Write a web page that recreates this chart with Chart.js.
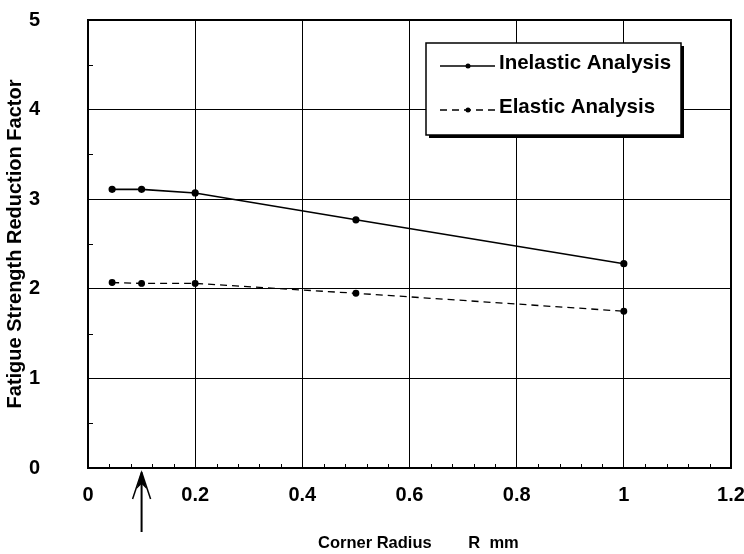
<!DOCTYPE html>
<html>
<head>
<meta charset="utf-8">
<script src="https://cdn.jsdelivr.net/npm/chart.js@4/dist/chart.umd.min.js"></script>
<style>
  html, body { margin: 0; padding: 0; background: #fff; }
  #wrap { width: 744px; height: 554px; position: relative; }
</style>
</head>
<body>
<div id="wrap"><canvas id="c" width="744" height="554"></canvas></div>
<script>
const radiusMM = [0.045, 0.1, 0.2, 0.5, 1.0];
const inelastic = [3.11, 3.11, 3.07, 2.77, 2.28];
const elastic = [2.07, 2.06, 2.06, 1.95, 1.75];
const seriesNames = ['Inelastic Analysis', 'Elastic Analysis'];
const xTitle = 'Corner Radius        R  mm';
const yTitle = 'Fatigue Strength Reduction Factor';
const arrowAt = 0.1;

const FONT = '"Liberation Sans", Arial, sans-serif';

const extras = {
  id: 'extras',
  beforeDatasetsDraw(chart) {
    const ctx = chart.ctx;
    const x = chart.scales.x, y = chart.scales.y;
    const a = chart.chartArea;
    ctx.save();
    ctx.strokeStyle = '#000';
    ctx.lineWidth = 1;
    // minor ticks on y (every 0.5)
    for (let v = 0.5; v < 5; v += 1) {
      const py = Math.round(y.getPixelForValue(v)) + 0.5;
      ctx.beginPath(); ctx.moveTo(a.left, py); ctx.lineTo(a.left + 5, py); ctx.stroke();
    }
    // minor ticks on x (every 0.04)
    for (let i = 1; i < 30; i++) {
      if (i % 5 === 0) continue;
      const px = Math.round(x.getPixelForValue(i * 0.04)) + 0.5;
      ctx.beginPath(); ctx.moveTo(px, a.bottom); ctx.lineTo(px, a.bottom - 4); ctx.stroke();
    }
    // legend box (covers gridlines)
    const lx = 426, ly = 43, lw = 255, lh = 92;
    ctx.fillStyle = '#000';
    ctx.fillRect(lx + 3, ly + 3, lw, lh);
    ctx.fillStyle = '#fff';
    ctx.fillRect(lx, ly, lw, lh);
    ctx.strokeStyle = '#000';
    ctx.lineWidth = 1.5;
    ctx.strokeRect(lx, ly, lw, lh);
    const rows = [63, 107];
    ctx.font = 'bold 20.5px ' + FONT;
    ctx.textBaseline = 'middle';
    ctx.textAlign = 'left';
    rows.forEach((ry, i) => {
      ctx.lineWidth = 1.3;
      ctx.setLineDash(i === 0 ? [] : [7, 5]);
      ctx.beginPath(); ctx.moveTo(440, ry + 3); ctx.lineTo(495, ry + 3); ctx.stroke();
      ctx.setLineDash([]);
      ctx.beginPath(); ctx.arc(468, ry + 3, 2.5, 0, Math.PI * 2); ctx.fillStyle = '#000'; ctx.fill();
      ctx.fillText(seriesNames[i], 499, ry);
    });
    ctx.restore();
  },
  afterDraw(chart) {
    const ctx = chart.ctx;
    const x = chart.scales.x;
    const a = chart.chartArea;
    const px = x.getPixelForValue(arrowAt);
    ctx.save();
    ctx.strokeStyle = '#000';
    ctx.fillStyle = '#000';
    ctx.lineWidth = 2;
    ctx.beginPath(); ctx.moveTo(px, a.bottom + 64); ctx.lineTo(px, a.bottom + 8); ctx.stroke();
    ctx.beginPath();
    ctx.moveTo(px, a.bottom + 2);
    ctx.lineTo(px + 5, a.bottom + 21);
    ctx.lineTo(px, a.bottom + 16);
    ctx.lineTo(px - 5, a.bottom + 21);
    ctx.closePath();
    ctx.fill();
    ctx.lineWidth = 1.5;
    ctx.beginPath(); ctx.moveTo(px, a.bottom + 4); ctx.lineTo(px - 9, a.bottom + 31); ctx.stroke();
    ctx.beginPath(); ctx.moveTo(px, a.bottom + 4); ctx.lineTo(px + 9, a.bottom + 31); ctx.stroke();
    // plot frame
    ctx.lineWidth = 2;
    ctx.strokeRect(a.left, a.top, a.right - a.left, a.bottom - a.top);
    // x axis title
    ctx.font = 'bold 16.5px ' + FONT;
    ctx.textAlign = 'left';
    ctx.textBaseline = 'middle';
    ctx.fillText(xTitle, 318, 543);
    ctx.restore();
  }
};

new Chart(document.getElementById('c'), {
  type: 'line',
  data: {
    datasets: [
      {
        label: seriesNames[0],
        data: radiusMM.map((r, i) => ({ x: r, y: inelastic[i] })),
        borderColor: '#000', backgroundColor: '#000',
        borderWidth: 1.6, pointRadius: 2.8, pointHoverRadius: 2.8, tension: 0
      },
      {
        label: seriesNames[1],
        data: radiusMM.map((r, i) => ({ x: r, y: elastic[i] })),
        borderColor: '#000', backgroundColor: '#000',
        borderWidth: 1.3, borderDash: [7, 5], pointRadius: 2.8, pointHoverRadius: 2.8, tension: 0
      }
    ]
  },
  options: {
    responsive: false,
    animation: false,
    events: [],
    layout: { autoPadding: false, padding: { top: 20, right: 13, left: 0, bottom: 0 } },
    plugins: { legend: { display: false }, tooltip: { enabled: false } },
    scales: {
      x: {
        type: 'linear', min: 0, max: 1.2,
        border: { display: false },
        grid: { color: '#000', lineWidth: 1, drawTicks: false },
        ticks: {
          stepSize: 0.2, padding: 15, color: '#000', maxRotation: 0,
          font: { family: FONT, size: 20, weight: 'bold' },
          callback: v => String(Math.round(v * 10) / 10)
        },
        title: { display: false },
        afterFit: s => { s.height = 86; s.paddingLeft = 0; s.paddingRight = 0; }
      },
      y: {
        type: 'linear', min: 0, max: 5,
        border: { display: false },
        grid: { color: '#000', lineWidth: 1, drawTicks: false },
        ticks: {
          stepSize: 1, padding: 48, color: '#000',
          font: { family: FONT, size: 20, weight: 'bold' }
        },
        title: {
          display: true, text: yTitle, color: '#000',
          font: { family: FONT, size: 20, weight: 'bold' },
          padding: { top: 3, bottom: 0 }
        },
        afterFit: s => { s.width = 88; s.paddingTop = 0; s.paddingBottom = 0; }
      }
    }
  },
  plugins: [extras]
});
</script>
</body>
</html>
